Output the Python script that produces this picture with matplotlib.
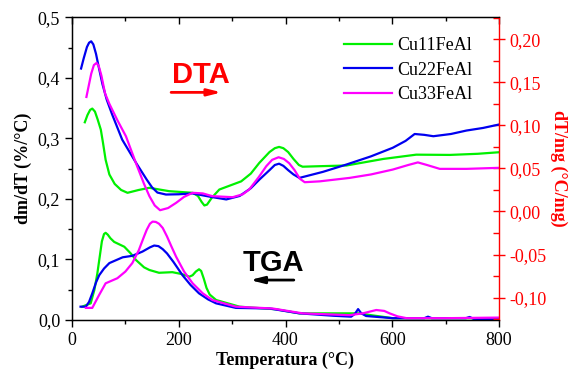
import matplotlib
matplotlib.use("Agg")
import matplotlib.pyplot as plt
from matplotlib.ticker import MultipleLocator, FuncFormatter

plt.rcParams['font.family'] = ['Liberation Serif', 'DejaVu Serif']

labels = ["Cu11FeAl", "Cu22FeAl", "Cu33FeAl"]
colors = ["#00F000", "#0000F0", "#FF00FF"]

# DTA curves (right axis, dT/mg)
dta_x_11 = [24, 29, 34, 38, 43, 48, 54, 58, 63, 70, 80, 92, 104, 125, 145, 182, 226, 236, 243, 248, 253, 262, 276, 317, 335, 351, 370, 380, 388, 396, 405, 415, 425, 432, 464, 514, 583, 645, 708, 760, 800]
dta_y_11 = [0.1036, 0.112, 0.118, 0.1195, 0.116, 0.107, 0.095, 0.080, 0.060, 0.043, 0.032, 0.025, 0.0217, 0.025, 0.0275, 0.0236, 0.0217, 0.018, 0.011, 0.007, 0.008, 0.016, 0.0255, 0.035, 0.044, 0.0565, 0.069, 0.0735, 0.075, 0.0735, 0.069, 0.061, 0.054, 0.052, 0.0526, 0.0534, 0.061, 0.066, 0.0657, 0.067, 0.0688]

dta_x_22 = [17, 22, 28, 32, 36, 40, 45, 50, 57, 65, 75, 94, 107, 120, 140, 150, 160, 176, 200, 226, 260, 289, 314, 335, 351, 370, 380, 388, 396, 405, 415, 426, 470, 514, 560, 601, 625, 642, 660, 677, 710, 739, 770, 800]
dta_y_22 = [0.166, 0.178, 0.191, 0.196, 0.1976, 0.194, 0.183, 0.168, 0.148, 0.130, 0.113, 0.0835, 0.070, 0.0565, 0.037, 0.028, 0.022, 0.0197, 0.020, 0.021, 0.017, 0.014, 0.018, 0.027, 0.037, 0.048, 0.054, 0.0555, 0.053, 0.048, 0.043, 0.039, 0.046, 0.0545, 0.064, 0.074, 0.082, 0.090, 0.089, 0.0874, 0.090, 0.094, 0.097, 0.101]

dta_x_33 = [27, 31, 36, 41, 46, 50, 55, 62, 70, 85, 101, 122, 135, 145, 155, 165, 180, 195, 210, 226, 245, 263, 301, 320, 332, 350, 364, 375, 387, 397, 407, 417, 427, 436, 464, 520, 560, 601, 630, 648, 665, 689, 739, 800]
dta_y_33 = [0.133, 0.145, 0.160, 0.170, 0.1725, 0.169, 0.158, 0.137, 0.125, 0.106, 0.0874, 0.0526, 0.032, 0.0178, 0.007, 0.0015, 0.004, 0.010, 0.017, 0.0217, 0.021, 0.0178, 0.0166, 0.020, 0.0255, 0.040, 0.0526, 0.060, 0.063, 0.061, 0.056, 0.048, 0.038, 0.034, 0.035, 0.039, 0.043, 0.0487, 0.054, 0.057, 0.054, 0.0495, 0.0495, 0.0507]

# TGA derivative curves (left axis, dm/dT)
tga_x_11 = [19, 35, 42, 47.5, 52, 56, 60, 63, 67, 72, 79, 98, 110, 120, 135, 145, 163, 188, 205, 220, 226, 232, 238, 242, 247, 252, 258, 270, 314, 382, 426, 476, 539, 560, 601, 800]
tga_y_11 = [0.022, 0.0275, 0.05, 0.077, 0.105, 0.13, 0.142, 0.144, 0.141, 0.135, 0.129, 0.121, 0.11, 0.099, 0.087, 0.0826, 0.078, 0.079, 0.076, 0.0716, 0.074, 0.080, 0.0838, 0.081, 0.068, 0.053, 0.042, 0.033, 0.022, 0.0177, 0.011, 0.011, 0.011, 0.008, 0.003, 0.003]

tga_x_22 = [16, 26, 32, 38, 45, 51, 60, 70, 95, 113, 132, 146, 154, 162, 170, 178, 190, 207, 222, 238, 255, 270, 307, 370, 426, 490, 523, 530, 536, 542, 551, 601, 660, 667, 674, 738, 745, 752, 800]
tga_y_22 = [0.022, 0.022, 0.03, 0.044, 0.062, 0.074, 0.085, 0.094, 0.1036, 0.106, 0.113, 0.120, 0.123, 0.122, 0.117, 0.110, 0.096, 0.074, 0.058, 0.044, 0.034, 0.0275, 0.020, 0.019, 0.011, 0.007, 0.0055, 0.010, 0.018, 0.011, 0.0066, 0.003, 0.003, 0.0055, 0.003, 0.003, 0.005, 0.002, 0.001]

tga_x_33 = [26, 38, 50, 63, 85, 100, 113, 125, 135, 140, 146, 151, 157, 163, 170, 178, 186, 195, 210, 226, 245, 263, 307, 376, 432, 520, 545, 570, 585, 595, 610, 627, 700, 800]
tga_y_33 = [0.020, 0.020, 0.040, 0.0606, 0.069, 0.080, 0.094, 0.115, 0.138, 0.149, 0.159, 0.1625, 0.162, 0.159, 0.152, 0.138, 0.122, 0.1046, 0.080, 0.0606, 0.044, 0.033, 0.022, 0.019, 0.011, 0.008, 0.011, 0.0165, 0.015, 0.011, 0.006, 0.003, 0.003, 0.004]

fig = plt.figure(figsize=(5.76, 3.69), dpi=100)
ax = fig.add_axes([72/576, 1-320/369, (499-72)/576, (320-17.3)/369])
ax2 = ax.twinx()

lw = 1.6
tga_sets = [(tga_x_11, tga_y_11), (tga_x_22, tga_y_22), (tga_x_33, tga_y_33)]
dta_sets = [(dta_x_11, dta_y_11), (dta_x_22, dta_y_22), (dta_x_33, dta_y_33)]
for (xs, ys), c in zip(tga_sets, colors):
    ax.plot(xs, ys, color=c, lw=lw, solid_joinstyle='round')
handles = []
for (xs, ys), c, lab in zip(dta_sets, colors, labels):
    h, = ax2.plot(xs, ys, color=c, lw=lw, label=lab, solid_joinstyle='round')
    handles.append(h)

ax.set_xlim(0, 800)
ax.set_ylim(0, 0.5)
ax2.set_ylim(-0.126, 0.2255)

comma1 = FuncFormatter(lambda v, p: f"{v:.1f}".replace('.', ','))
comma2 = FuncFormatter(lambda v, p: f"{v:.2f}".replace('.', ','))
ax.xaxis.set_major_locator(MultipleLocator(200))
ax.xaxis.set_minor_locator(MultipleLocator(100))
ax.yaxis.set_major_locator(MultipleLocator(0.1))
ax.yaxis.set_minor_locator(MultipleLocator(0.05))
ax.yaxis.set_major_formatter(comma1)
ax2.yaxis.set_major_locator(MultipleLocator(0.05))
ax2.yaxis.set_minor_locator(MultipleLocator(0.025))
ax2.yaxis.set_major_formatter(comma2)

ax.tick_params(axis='both', which='major', direction='out', length=5, width=1, labelsize=13)
ax.tick_params(axis='both', which='minor', direction='out', length=3, width=1)
ax2.tick_params(axis='y', which='major', direction='inout', length=8, width=1, colors='red', labelsize=13)
ax2.tick_params(axis='y', which='minor', direction='in', length=4, width=1, colors='red')

top = ax.secondary_xaxis('top')
top.xaxis.set_major_locator(MultipleLocator(200))
top.xaxis.set_minor_locator(MultipleLocator(100))
top.tick_params(axis='x', which='major', direction='in', length=5, width=1, labeltop=False)
top.tick_params(axis='x', which='minor', direction='in', length=3, width=1)
top.spines['top'].set_visible(False)

for s in ax.spines.values():
    s.set_linewidth(1)
ax2.spines['right'].set_color('red')
ax2.spines['right'].set_linewidth(1)
ax.spines['right'].set_visible(False)

ax.set_xlabel("Temperatura (°C)", fontsize=13, fontweight='bold', labelpad=2)
ax.set_ylabel("dm/dT (%/°C)", fontsize=13, fontweight='bold', labelpad=4)
ax2.set_ylabel("dT/mg (°C/mg)", fontsize=13, fontweight='bold', color='red', rotation=270, labelpad=15)

leg = ax2.legend(handles=handles, loc='upper left', bbox_to_anchor=(0.637, 0.935),
                 frameon=False, fontsize=13, handlelength=2.67, handletextpad=0.3,
                 labelspacing=0.42, borderpad=0, borderaxespad=0)

ax.text(0.235, 0.782, "DTA", transform=ax.transAxes, color='red', fontsize=21,
        fontweight='bold', family=['Liberation Sans'], va='baseline', ha='left')
ax.annotate("", xy=(0.357, 0.752), xytext=(0.2256, 0.752), xycoords='axes fraction',
            arrowprops=dict(arrowstyle='-|>,head_length=0.8,head_width=0.2', color='red', lw=2))
ax.text(0.399, 0.163, "TGA", transform=ax.transAxes, color='black', fontsize=21,
        fontweight='bold', family=['Liberation Sans'], va='baseline', ha='left')
ax.annotate("", xy=(0.41, 0.132), xytext=(0.526, 0.132), xycoords='axes fraction',
            arrowprops=dict(arrowstyle='-|>,head_length=0.8,head_width=0.2', color='black', lw=2))

fig.savefig("out.png", dpi=100)
